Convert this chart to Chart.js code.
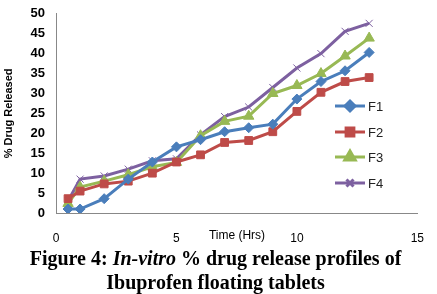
<!DOCTYPE html>
<html><head><meta charset="utf-8">
<script src="https://cdn.jsdelivr.net/npm/chart.js@4/dist/chart.umd.min.js"></script>
<style>
html,body{margin:0;padding:0;background:#fff;overflow:hidden;}
#wrap{position:relative;width:437px;height:294px;overflow:hidden;}
canvas{position:absolute;left:0;top:0;}
#cap{position:absolute;left:-3px;top:246px;width:437px;text-align:center;font-family:"Liberation Serif","Times New Roman",serif;font-weight:bold;font-size:20px;line-height:24px;color:#000;white-space:nowrap;}
</style></head>
<body>
<div id="wrap"><canvas id="c" width="437" height="294"></canvas>
<div id="cap">Figure 4: <i>In-vitro</i> % drug release profiles of<br>Ibuprofen floating tablets</div></div>
<script>
const times = [0.5,1,2,3,4,5,6,7,8,9,10,11,12,13];
const seriesNames = ["F1","F2","F3","F4"];
const F1 = [1,1,3.6,8.5,12.8,16.6,18.4,20.4,21.4,22.3,28.6,33,35.7,40.3];
const F2 = [3.6,5.5,7.3,8,10,12.8,14.6,17.7,18.2,20.4,25.5,30.3,33,34];
const F3 = [2.4,6.5,8,9.6,11.6,12.7,19.4,23,24.3,30,32,35,39.4,43.9];
const F4 = [3,8.5,9.3,11,13.1,13.6,19.6,24.2,26.6,31.5,36.4,40,45.6,47.6];
const xTicks = [0,5,10,15];
const yTicks = [0,5,10,15,20,25,30,35,40,45,50];

const colors = ["#4A7EBB","#BE4B48","#98B954","#7D60A0"];
const styles = ["rectRot","rect","triangle","crossRot"];
const radii = [5,5.5,6,5];
const allData = [F1,F2,F3,F4];

const datasets = allData.map((arr,i)=>({
  label: seriesNames[i],
  data: arr.map((v,j)=>({x:times[j], y:v})),
  borderColor: colors[i],
  backgroundColor: colors[i],
  borderWidth: 3,
  pointStyle: styles[i],
  pointRadius: radii[i],
  pointBorderWidth: 1,
  pointBorderColor: colors[i],
  pointBackgroundColor: colors[i],
  tension: 0
}));

const extras = {
  id:'extras',
  afterDraw(chart){
    const ctx = chart.ctx;
    ctx.save();
    ctx.fillStyle = '#000';
    ctx.font = '12px "Liberation Sans", Arial, sans-serif';
    ctx.textAlign='center'; ctx.textBaseline='middle';
    ctx.fillText('Time (Hrs)', 237, 236);
    const lx1 = 335, lx2 = 365;
    const ys = [106,132,157,183];
    ctx.font = '13px "Liberation Sans", Arial, sans-serif';
    ctx.textAlign='left';
    for(let i=0;i<4;i++){
      ctx.strokeStyle = colors[i]; ctx.lineWidth = 3;
      ctx.beginPath(); ctx.moveTo(lx1, ys[i]); ctx.lineTo(lx2, ys[i]); ctx.stroke();
      ctx.fillStyle = colors[i];
      Chart.helpers.drawPoint(ctx, {pointStyle: styles[i], radius: radii[i], borderWidth:1, rotation:0}, (lx1+lx2)/2, ys[i]);
      ctx.fillStyle = '#222';
      ctx.fillText(seriesNames[i], 368, ys[i]+1);
    }
    ctx.restore();
  }
};

new Chart(document.getElementById('c'), {
  type:'line',
  data:{datasets},
  options:{
    responsive:false, animation:false,
    layout:{padding:{top:7,right:15,left:2,bottom:0}},
    plugins:{legend:{display:false}, tooltip:{enabled:false}},
    scales:{
      x:{type:'linear', min:0, max:15,
        afterBuildTicks:(s)=>{s.ticks = xTicks.map(v=>({value:v}));},
        grid:{display:false, drawTicks:true, tickLength:5, color:'#888'},
        border:{color:'#888', width:1},
        ticks:{color:'#000', font:{size:12, family:'"Liberation Sans", Arial, sans-serif'}, padding:13, maxRotation:0},
        afterFit:(s)=>{s.height = 81;}
      },
      y:{min:0, max:50,
        afterBuildTicks:(s)=>{s.ticks = yTicks.map(v=>({value:v}));},
        grid:{display:false, drawTicks:true, tickLength:5, color:'#888'},
        border:{color:'#888', width:1},
        ticks:{color:'#000', font:{size:13, weight:'bold', family:'"Liberation Sans", Arial, sans-serif'}, padding:6},
        title:{display:true, text:'% Drug Released', color:'#000', font:{size:11, weight:'bold', family:'"Liberation Sans", Arial, sans-serif'}, padding:{top:0,bottom:4}},
        afterFit:(s)=>{s.width = 54;}
      }
    }
  },
  plugins:[extras]
});
</script>
</body></html>
